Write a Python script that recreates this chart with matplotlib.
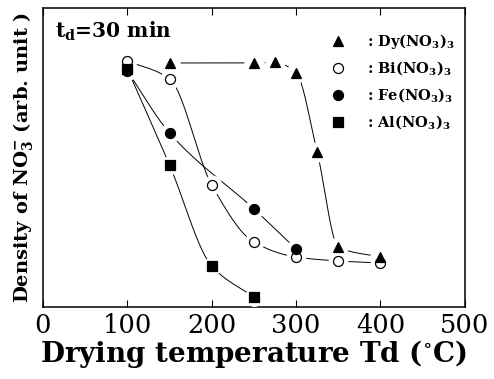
import matplotlib
matplotlib.use("Agg")
import matplotlib.pyplot as plt
import numpy as np

plt.rcParams["font.family"] = "DejaVu Serif"
plt.rcParams["mathtext.fontset"] = "dejavuserif"

# NO3- density (arb. unit) vs drying temperature, td = 30 min
dy_t = [150, 250, 275, 300, 325, 350, 400]
dy_v = [81.6, 81.6, 81.8, 78.3, 51.8, 20.1, 16.7]
bi_t = [100, 150, 200, 250, 300, 350, 400]
bi_v = [82.3, 76.3, 40.8, 21.7, 16.7, 15.4, 14.7]
fe_t = [100, 150, 250, 300]
fe_v = [78.9, 58.2, 32.8, 19.4]
al_t = [100, 150, 200, 250]
al_v = [79.6, 47.5, 13.7, 3.3]

labels = [": Dy(NO$_\\mathbf{3}$)$_\\mathbf{3}$",
          ": Bi(NO$_\\mathbf{3}$)$_\\mathbf{3}$",
          ": Fe(NO$_\\mathbf{3}$)$_\\mathbf{3}$",
          ": Al(NO$_\\mathbf{3}$)$_\\mathbf{3}$"]


def pchip(x, y, n=200):
    # monotone cubic (Fritsch-Carlson) for smooth connecting curves
    x = np.asarray(x, float)
    y = np.asarray(y, float)
    h = np.diff(x)
    d = np.diff(y) / h
    m = np.zeros_like(x)
    m[0], m[-1] = d[0], d[-1]
    for i in range(1, len(x) - 1):
        if d[i - 1] * d[i] > 0:
            w1 = 2 * h[i] + h[i - 1]
            w2 = h[i] + 2 * h[i - 1]
            m[i] = (w1 + w2) / (w1 / d[i - 1] + w2 / d[i])
    xs = np.linspace(x[0], x[-1], n)
    k = np.clip(np.searchsorted(x, xs) - 1, 0, len(x) - 2)
    t = (xs - x[k]) / h[k]
    h00 = 2 * t**3 - 3 * t**2 + 1
    h10 = t**3 - 2 * t**2 + t
    h01 = -2 * t**3 + 3 * t**2
    h11 = t**3 - t**2
    ys = h00 * y[k] + h10 * h[k] * m[k] + h01 * y[k + 1] + h11 * h[k] * m[k + 1]
    return xs, ys


fig = plt.figure(figsize=(4.94, 3.79), dpi=100)
ax = fig.add_axes([0.087, 0.19, 0.854, 0.789])

series = [
    (bi_t, bi_v, "o", "white", 7.2, labels[1]),
    (fe_t, fe_v, "o", "black", 7.2, labels[2]),
    (al_t, al_v, "s", "black", 6.6, labels[3]),
    (dy_t, dy_v, "^", "black", 7.6, labels[0]),
]

handles = {}
for i, (t, v, mk, fc, ms, lab) in enumerate(series):
    xs, ys = pchip(t, v)
    ax.plot(xs, ys, color="black", lw=0.7, zorder=1)
    # white halo leaves a small gap between curve and marker
    ax.plot(t, v, ls="none", marker="o", ms=ms + 6, mfc="white", mec="white", zorder=3)
    h, = ax.plot(t, v, ls="none", marker=mk, ms=ms, mfc=fc, mec="black",
                 mew=0.9, zorder=4 + i, label=lab)
    handles[lab] = h

ax.legend([handles[l] for l in labels], labels, loc="upper right",
          bbox_to_anchor=(1.0, 0.955), frameon=False, numpoints=1,
          handletextpad=1.0, labelspacing=0.62, borderaxespad=0.3,
          prop={"weight": "bold", "size": 10.5})

ax.text(0.028, 0.96, "t$_\\mathbf{d}$=30 min", transform=ax.transAxes,
        fontsize=14.5, fontweight="bold", va="top", ha="left")

ax.set_xlim(0, 500)
ax.set_ylim(0, 100)
ax.set_xticks([0, 100, 200, 300, 400, 500])
ax.set_yticks([])
ax.tick_params(axis="x", direction="in", top=True, length=5, width=0.8,
               labelsize=18.5, pad=4)
for s in ax.spines.values():
    s.set_linewidth(1.1)

ax.set_xlabel("Drying temperature Td ($^{\\circ}$C)", fontsize=20,
              fontweight="bold", labelpad=0)
ax.set_ylabel("Density of NO$_\\mathbf{3}^{\\mathbf{-}}$ (arb. unit )",
              fontsize=14, fontweight="bold", labelpad=6)

fig.savefig("out.png", dpi=100)
